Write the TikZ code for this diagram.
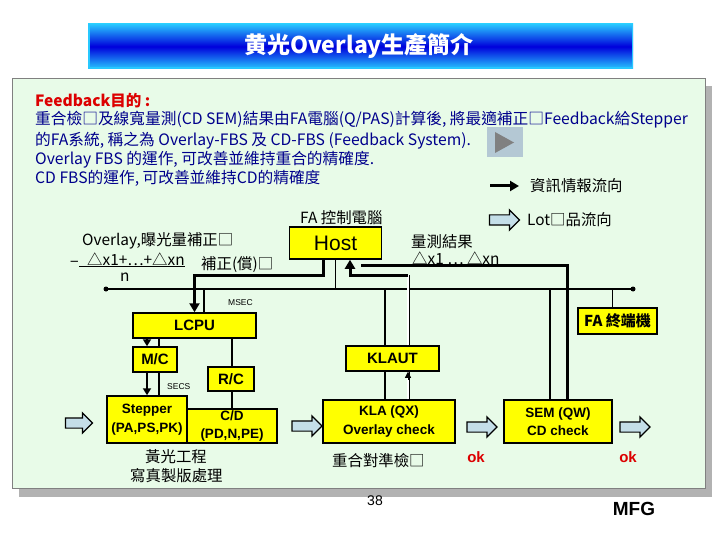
\documentclass[tikz,border=0pt]{standalone}
\usepackage{fontspec}
\setmainfont{Noto Sans CJK TC}
\newfontfamily\lsans{Liberation Sans}
\usetikzlibrary{shapes.arrows,arrows.meta,calc}
\definecolor{panelgreen}{RGB}{232,251,232}
\definecolor{panelshadow}{RGB}{178,178,178}
\definecolor{navytxt}{RGB}{0,0,140}
\definecolor{okred}{RGB}{220,0,0}
\definecolor{boxyellow}{RGB}{255,255,0}
\definecolor{arrowblue}{RGB}{196,222,232}
\definecolor{titlecyan}{RGB}{40,200,255}
\definecolor{titleblue}{RGB}{0,0,220}
\definecolor{playbg}{RGB}{180,200,212}
\definecolor{playfg}{RGB}{128,128,128}
\begin{document}
\begin{tikzpicture}[x=1pt,y=-1pt,
  ybox/.style={draw=black, line width=1.5pt, fill=boxyellow, inner sep=0pt, align=center},
  lbl/.style={font=\lsans\bfseries\fontsize{15}{17}\selectfont},
  lbltwo/.style={font=\lsans\bfseries\fontsize{13.5}{18.5}\selectfont},
  body/.style={anchor=west, inner sep=0pt, text=navytxt, font=\fontsize{15.7}{17}\selectfont},
  txt/.style={anchor=west, inner sep=0pt, font=\fontsize{15.4}{17}\selectfont},
  small/.style={anchor=west, inner sep=0pt, font=\lsans\fontsize{8.5}{10}\selectfont},
  oklbl/.style={inner sep=0pt, text=okred, font=\lsans\bfseries\fontsize{15}{17}\selectfont},
  thinln/.style={line width=1.1pt},
  fatln/.style={line width=3pt},
  fatarrow/.style={line width=3pt, -{Triangle[length=9pt,width=10pt]}},
  medarrow/.style={line width=2.5pt, -{Triangle[length=7pt,width=8pt]}},
  dbl/.style={double, double distance=1.6pt, line width=0.7pt},
  blockarrow/.style={single arrow, draw=black, line width=1.2pt, fill=arrowblue,
     minimum height=30pt, inner xsep=0pt, inner ysep=4.5pt,
     single arrow head extend=5pt, single arrow tip angle=90}
]
\useasboundingbox (0,0) rectangle (720,540);
\fill[white] (0,0) rectangle (720,540);

% title bar
\shade[top color=titlecyan, bottom color=titlecyan, middle color=titleblue] (88,24) rectangle (633,69);
\draw[titlecyan, line width=1.5pt] (88.75,24.75) rectangle (632.25,68.25);
\node[text=white, font=\bfseries\fontsize{23}{25}\selectfont] (title) at (359,46) {黄光Overlay生產簡介};

% panel
\fill[panelshadow] (19,86) rectangle (712,497);
\draw[gray, line width=0.8pt, fill=panelgreen] (12,78) rectangle (705,488);

% body text
\node[body, text=okred, font=\bfseries\fontsize{15.5}{17}\selectfont] (fbt) at (35,101) {Feedback目的 :};
\node[body] (l1) at (35,120) {重合檢□及線寬量測(CD SEM)結果由FA電腦(Q/PAS)計算後, 將最適補正□Feedback給Stepper};
\node[body] (l2) at (35,141) {的FA系統, 稱之為 Overlay-FBS 及 CD-FBS (Feedback System).};
\node[body] (l3) at (35,160) {Overlay FBS 的運作, 可改善並維持重合的精確度.};
\node[body] (l4) at (35,178) {CD FBS的運作, 可改善並維持CD的精確度};

% play button
\node[fill=playbg, minimum width=36pt, minimum height=30pt, inner sep=0pt] (play) at (504.5,142.5) {};
\fill[playfg] ([xshift=-9.5pt,yshift=10.5pt]play.center) -- ([xshift=-9.5pt,yshift=-10.5pt]play.center) -- ([xshift=9.5pt]play.center) -- cycle;

% legends
\coordinate (lg1) at (490,186);
\coordinate (lg2) at (519,186);
\draw[line width=3pt, -{Triangle[length=9pt,width=10pt]}] (lg1) -- (lg2);
\node[txt] (legi) at (530,186) {資訊情報流向};
\node[blockarrow] (balg) at (502,220) {};
\node[txt] (lotl) at (527,220) {Lot□品流向};

% labels
\node[txt] (fac) at (300,218) {FA 控制電腦};
\node[txt] (ovl) at (82,241) {Overlay,曝光量補正□};
\node[txt] (meas) at (411,242) {量測結果};
\node[txt] (dx) at (412,258.5) {△x1 … △xn};
\node[txt] (minus) at (70,264) {−};
\node[txt] (frac) at (87,259) {△x1+…+△xn};
\draw[line width=1pt] ([xshift=-8pt,yshift=-1pt]frac.base west) -- ([yshift=-1pt]frac.base east);
\node[txt] (nn) at (120,277) {n};
\node[txt] (hos) at (201,265) {補正(償)□};
\node[small] (msec) at (228,303) {MSEC};
\node[small] (secs) at (167,387) {SECS};
\node[txt] (hg1) at (145,457) {黃光工程};
\node[txt] (hg2) at (130,476) {寫真製版處理};
\node[txt] (chk) at (332,461) {重合對準檢□};
\node[oklbl] (ok1) at (476,457) {ok};
\node[oklbl] (ok2) at (628,457) {ok};
\node[font=\lsans\fontsize{14}{16}\selectfont, inner sep=0pt] (pg) at (375,501) {38};
\node[font=\lsans\bfseries\fontsize{19}{21}\selectfont, inner sep=0pt] (mfg) at (634,509) {MFG};

% boxes
\node[ybox, minimum width=92pt, minimum height=32pt, font=\lsans\fontsize{21}{23}\selectfont] (host) at (335.5,243) {Host};
\node[ybox, lbl, minimum width=123pt, minimum height=25pt] (lcpu) at (194.5,325.5) {LCPU};
\node[ybox, lbl, minimum width=44pt, minimum height=25pt] (mc) at (155,359.5) {M/C};
\node[ybox, lbl, minimum width=46pt, minimum height=24pt] (rc) at (231,379) {R/C};
\node[ybox, lbltwo, minimum width=80pt, minimum height=47pt] (stepper) at (147,419.5) {Stepper\\(PA,PS,PK)};
\node[ybox, lbltwo, minimum width=90pt, minimum height=34pt] (cd) at (232,426) {C/D\\(PD,N,PE)};
\node[ybox, lbl, minimum width=93pt, minimum height=25pt] (klaut) at (392.5,358.5) {KLAUT};
\node[ybox, lbltwo, minimum width=132pt, minimum height=43pt] (kla) at (389,421.5) {KLA (QX)\\Overlay check};
\node[ybox, lbltwo, minimum width=108pt, minimum height=43pt] (sem) at (558,421.5) {SEM (QW)\\CD check};
\node[ybox, font=\bfseries\fontsize{15}{17}\selectfont, minimum width=79pt, minimum height=26pt] (fat) at (617.5,321) {FA 終端機};

% block arrows
\node[blockarrow, minimum height=27pt] (ba0) at (76.5,423) {};
\node[blockarrow] (ba1) at (304.5,426) {};
\node[blockarrow] (ba2) at (479.5,427) {};
\node[blockarrow] (ba3) at (632.5,427) {};

% bus
\node[circle, fill=black, inner sep=0pt, minimum size=5pt] (busL) at (106,289) {};
\node[circle, fill=black, inner sep=0pt, minimum size=5pt] (busR) at (633,289) {};
\draw[thinln] (busL.center) -- (busR.center);
\coordinate (bLC) at (204,289);
\coordinate (bKL) at (385,289);
\coordinate (bSE) at (550,289);
\coordinate (bFA) at (612.5,289);
\draw[thinln] (host.south) -- (host.south |- busL);
\draw[thinln] (bLC) -- (bLC |- lcpu.north);
\draw[thinln] (bKL) -- (bKL |- klaut.north);
\draw[thinln] (bKL |- klaut.south) -- (bKL |- kla.north);
\draw[thinln] (bSE) -- (bSE |- sem.north);
\draw[thinln] (bFA) -- (bFA |- fat.north);

% Host -> LCPU
\coordinate (hL) at ([xshift=-12.5pt]host.south);
\draw[fatarrow] (hL) -- ++(0,16) -| (lcpu.north);
% SEM -> Host
\draw[fatln] ([xshift=9pt]sem.north) |- ([xshift=25.5pt,yshift=-6pt]host.south);
% KLAUT -> Host
\coordinate (kU) at ([xshift=15.5pt]klaut.north);
\coordinate (kT) at (408,275);
\draw[dbl] (kU) -- (kT);
\draw[fatarrow] (kT) -| ([xshift=14.5pt]host.south);
% KLA -> KLAUT
\draw[dbl] ([xshift=19pt]kla.north) -- ([xshift=15.5pt]klaut.south);
\draw[line width=0.6pt, -{Triangle[length=6pt,width=6pt]}] ([xshift=15.5pt,yshift=-8pt]klaut.south) -- ([xshift=15.5pt]klaut.south);

% LCPU -> M/C -> Stepper
\draw[medarrow] ([xshift=-47.5pt]lcpu.south) -- ([xshift=-8pt]mc.north);
\draw[thinln] ([xshift=-35.5pt]lcpu.south) -- ([xshift=4pt]mc.north);
\draw[medarrow] ([xshift=-8pt]mc.south) -- (stepper.north);
\draw[thinln] ([xshift=4pt]mc.south) -- ([xshift=12pt]stepper.north);
% LCPU -> R/C -> C/D
\draw[thinln] ([xshift=37.5pt]lcpu.south) -- ([xshift=1pt]rc.north);
\draw[thinln] ([xshift=1pt]rc.south) -- (cd.north);
\end{tikzpicture}
\end{document}
